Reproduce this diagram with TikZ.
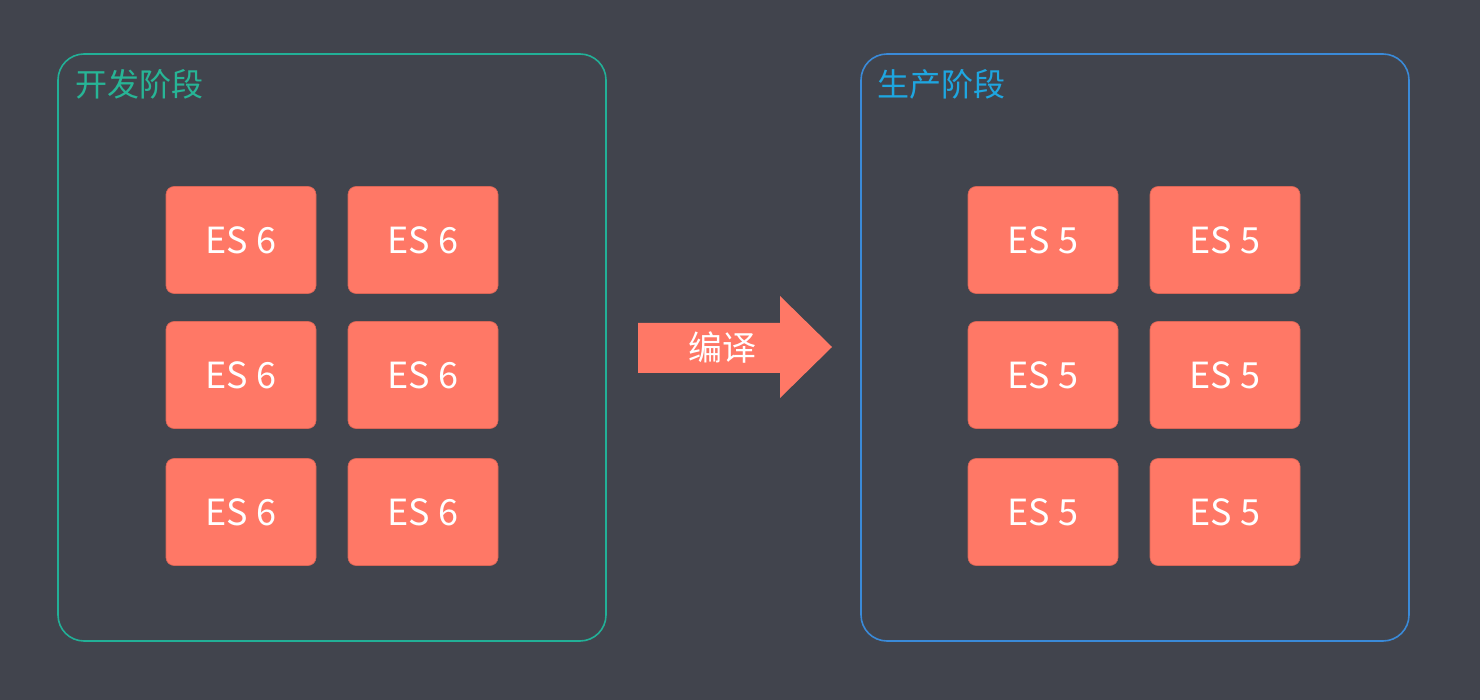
\documentclass[tikz,border=0pt]{standalone}
\usepackage{fontspec}
\setmainfont{Noto Sans CJK SC}
\definecolor{bg}{HTML}{41444D}
\definecolor{salmon}{HTML}{FF7866}
\definecolor{tealc}{HTML}{22B097}
\definecolor{teallabel}{HTML}{27B596}
\definecolor{bluec}{HTML}{3A8AD8}
\definecolor{bluelabel}{HTML}{1EA6E0}
\tikzset{
  esbox/.style={fill=salmon, draw=salmon!85!black, line width=0.6pt, rounded corners=8pt, minimum width=150pt, minimum height=107pt, inner sep=0pt, text=white, font=\fontsize{36}{42}\selectfont},
  stage/.style={rounded corners=26pt, line width=1.6pt},
  stagelabel/.style={anchor=west, inner sep=0pt, font=\fontsize{32}{38}\selectfont}
}
\begin{document}
\begin{tikzpicture}[x=1pt,y=-1pt]
\fill[bg] (0,0) rectangle (1480,700);
\useasboundingbox (0,0) rectangle (1480,700);
% containers
\draw[stage, draw=tealc] (58,54) rectangle (606,641);
\draw[stage, draw=bluec] (861,54) rectangle (1409,641);
\node[stagelabel, text=teallabel] (devlabel) at (75,84) {开发阶段};
\node[stagelabel, text=bluelabel] (prodlabel) at (877,84) {生产阶段};
% ES6 boxes
\node[esbox] (a1) at (241,240) {ES 6};
\node[esbox] (a2) at (423,240) {ES 6};
\node[esbox] (a3) at (241,375) {ES 6};
\node[esbox] (a4) at (423,375) {ES 6};
\node[esbox] (a5) at (241,512) {ES 6};
\node[esbox] (a6) at (423,512) {ES 6};
% ES5 boxes
\node[esbox] (b1) at (1043,240) {ES 5};
\node[esbox] (b2) at (1225,240) {ES 5};
\node[esbox] (b3) at (1043,375) {ES 5};
\node[esbox] (b4) at (1225,375) {ES 5};
\node[esbox] (b5) at (1043,512) {ES 5};
\node[esbox] (b6) at (1225,512) {ES 5};
% arrow
\fill[salmon] (638,323) -- (780,323) -- (780,296) -- (832,347) -- (780,398) -- (780,373) -- (638,373) -- cycle;
\node[text=white, font=\fontsize{34}{40}\selectfont, inner sep=0pt] (compile) at (722,348) {编译};
\end{tikzpicture}
\end{document}
